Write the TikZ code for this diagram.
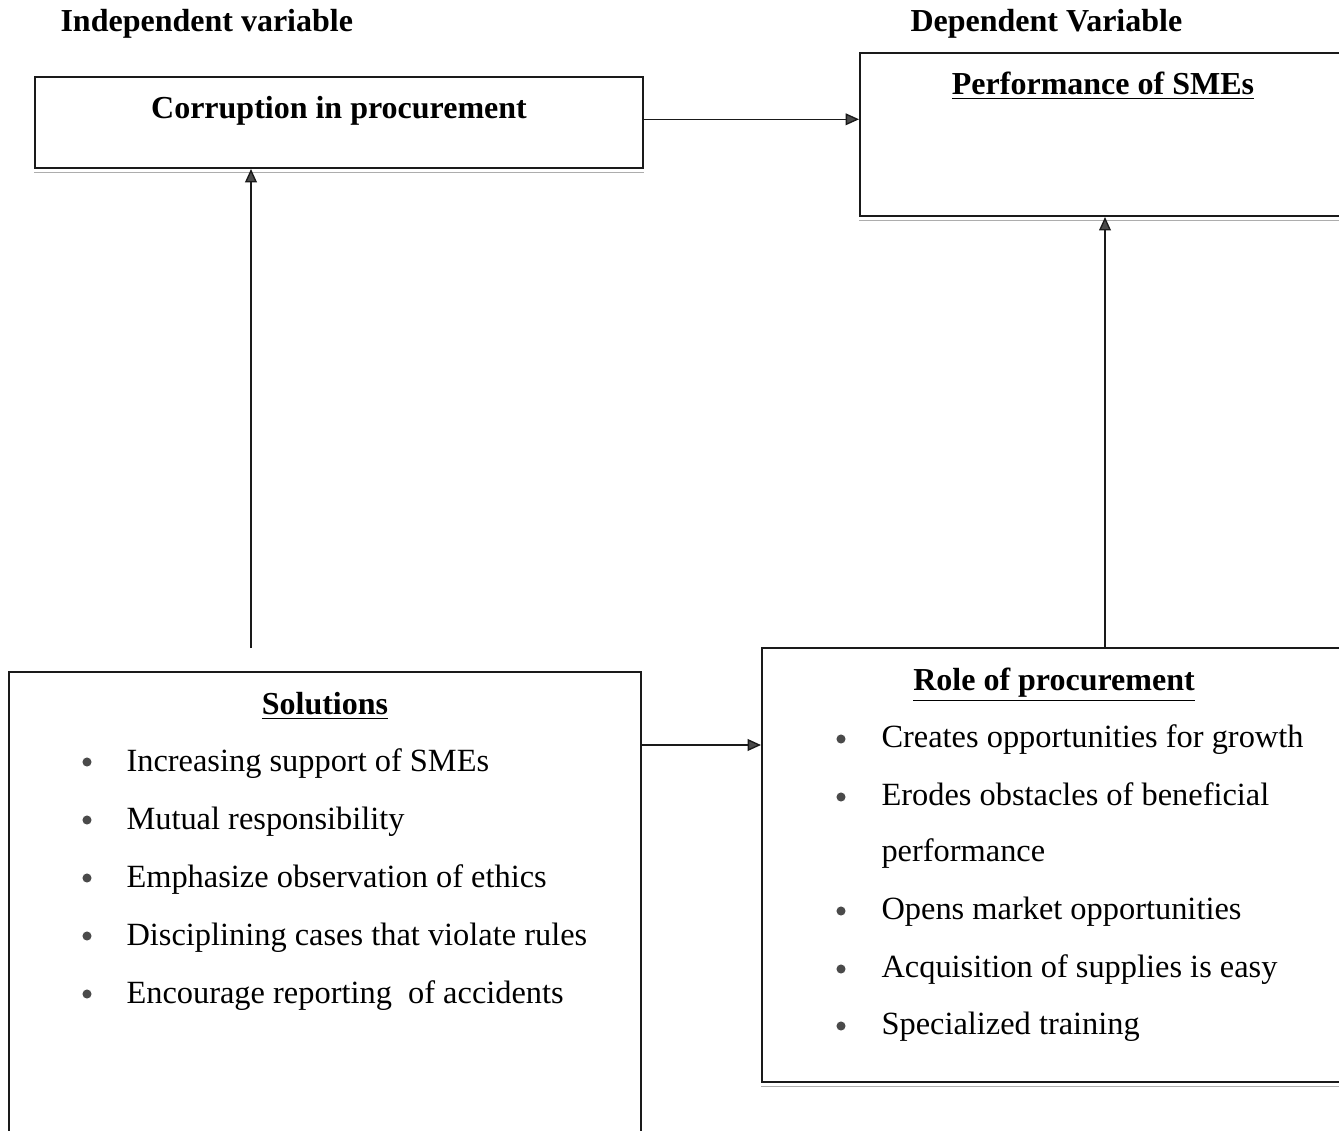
\documentclass[tikz,border=0pt]{standalone}
\usepackage{fontspec}
\setmainfont{Liberation Serif}
\usepackage{tikz}
\usetikzlibrary{arrows.meta,positioning,calc}
\definecolor{ink}{HTML}{1A1A1A}
\definecolor{inkgray}{HTML}{8A8A8A}
\definecolor{bulletgray}{HTML}{4A4A4A}
\tikzset{
  varbox/.style={draw=ink,line width=0.75pt,fill=white,inner sep=0pt},
  shadowline/.style={draw=inkgray!70,line width=0.6pt},
  flowarr/.style={-{Triangle[length=5pt,width=4.4pt,fill=bulletgray]},draw=ink,line width=0.5pt},
  headtxt/.style={font=\fontsize{12}{14}\selectfont\bfseries,inner sep=0pt},
  itemtxt/.style={font=\fontsize{12.15}{14}\selectfont,inner sep=0pt,anchor=base west}
}
\begin{document}
\begin{tikzpicture}[x=0.375pt,y=-0.375pt]
  \clip (0,0) rectangle (1339,1131);
  \fill[white] (0,0) rectangle (1339,1131);
  % headings
  \node[headtxt,anchor=base west] (indep) at (60,31) {Independent variable};
  \node[headtxt,anchor=base west] (dep) at (910,31) {Dependent Variable};
  % boxes
  \node[varbox,minimum width=228pt,minimum height=34.125pt] (corr) at (339,122.5) {};
  \node[varbox,minimum width=183.75pt,minimum height=61.125pt] (perf) at (1105,134.5) {};
  \node[varbox,minimum width=237pt,minimum height=179.25pt] (sol) at (325,911) {};
  \node[varbox,minimum width=219pt,minimum height=162.75pt] (role) at (1054,865) {};
  \foreach \b in {corr,perf,role}
    \draw[shadowline] ([yshift=-1.3pt]\b.south west) -- ([yshift=-1.3pt]\b.south east);
  % titles
  \node[headtxt,anchor=base] (corrT) at (339,118) {Corruption in procurement};
  \node[headtxt,anchor=base] (perfT) at (1103,94) {\underline{Performance of SMEs}};
  \node[headtxt,anchor=base] (solT) at (325,714) {\underline{Solutions}};
  \node[headtxt,anchor=base] (roleT) at (1054,690) {\underline{Role of procurement}};
  % lists
  \foreach \txt [count=\i] in {Increasing support of SMEs,Mutual responsibility,
      Emphasize observation of ethics,Disciplining cases that violate rules,
      Encourage reporting\ \ of accidents}{
    \fill[bulletgray] (87,{762+58*(\i-1)}) circle (1.7pt);
    \node[itemtxt] (sol\i) at (126,{771+58*(\i-1)}) {\txt};
  }
  \foreach \y/\txt [count=\i] in {737/Creates opportunities for growth,
      795/Erodes obstacles of beneficial,909/Opens market opportunities,
      967/Acquisition of supplies is easy,1024/Specialized training}{
    \fill[bulletgray] (841,\y+2) circle (1.7pt);
    \node[itemtxt] (role\i) at (881,\y+10) {\txt};
  }
  \node[itemtxt] (role2b) at (881,861) {performance};
  % connectors
  \coordinate (solUp) at (251,648);
  \coordinate (solRole) at (700,745);
  \draw[flowarr] ([yshift=1.2pt]corr.east) -- ([yshift=1.2pt]corr.east -| perf.west);
  \draw[flowarr] (solUp) -- (solUp |- corr.south);
  \draw[flowarr] (sol.east |- solRole) -- (role.west |- solRole);
  \draw[flowarr] (perf.south |- role.north) -- (perf.south);
\end{tikzpicture}
\end{document}
